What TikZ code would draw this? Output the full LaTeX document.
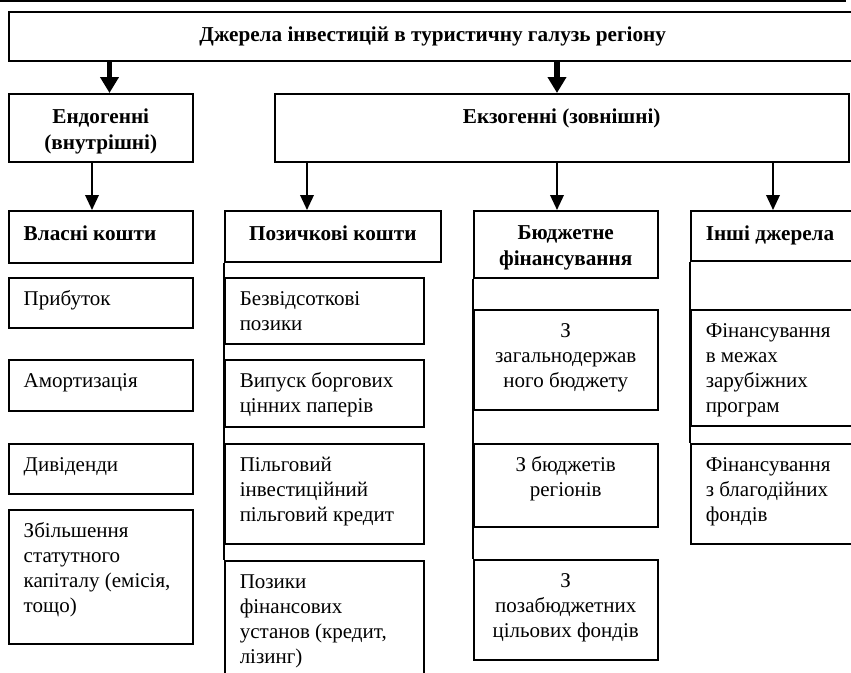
\documentclass[tikz,border=0pt]{standalone}
\usepackage{fontspec}
\setmainfont{Liberation Serif}
\usetikzlibrary{arrows.meta}
\newcommand\rgf{\fontsize{21}{25}\selectfont}
\newcommand\hdf{\fontsize{21.2}{26}\selectfont\bfseries}
\newcommand\La{\raggedright\leftskip=15pt\relax}
\newcommand\Ce{\centering}
% #1 width, #2 height, #3 first baseline from top, #4 font and alignment, #5 text
\newcommand\cbox[5]{\parbox[c][#2][t]{#1}{#4\vspace*{\dimexpr#3-\ht\strutbox\relax}\strut #5\strut\par}}
\begin{document}
\begin{tikzpicture}[x=1pt,y=-1pt,
  cell/.style={draw, line width=1.5pt, inner sep=0pt, anchor=north west},
  thinarr/.style={line width=2pt, -{Triangle[width=13.5pt,length=15pt]}},
  thickarr/.style={line width=5.5pt, -{Triangle[width=18pt,length=16pt]}},
  vline/.style={line width=1.5pt}]
\useasboundingbox (0,0) rectangle (851,672);
\clip (0,0) rectangle (851,672);
\draw[line width=2pt] (0,1) -- (846,1);
% level 0
\node[cell] (title) at (8,11) {\cbox{848pt}{49pt}{29.5pt}{\hdf\Ce}{Джерела інвестицій в туристичну галузь регіону}};
% level 1
\node[cell] (endo) at (8,93) {\cbox{184pt}{68pt}{29.5pt}{\hdf\Ce}{Ендогенні\\(внутрішні)}};
\node[cell] (exo) at (274,93) {\cbox{574pt}{68pt}{30pt}{\hdf\Ce}{Екзогенні (зовнішні)}};
% level 2 headers
\node[cell] (vlasni) at (8,210) {\cbox{184pt}{52pt}{30pt}{\hdf\La}{Власні кошти}};
\node[cell] (pozych) at (224,210) {\cbox{216pt}{51pt}{30pt}{\hdf\Ce}{Позичкові кошти}};
\node[cell] (budzh) at (473,210) {\cbox{184pt}{67pt}{29pt}{\hdf\Ce}{Бюджетне\\фінансування}};
\node[cell] (inshi) at (690,210) {\cbox{170pt}{50pt}{30pt}{\hdf\La}{Інші джерела}};
% own funds
\node[cell] (pryb) at (8,277) {\cbox{184pt}{50pt}{27.5pt}{\rgf\La}{Прибуток}};
\node[cell] (amort) at (8,359) {\cbox{184pt}{51pt}{27.5pt}{\rgf\La}{Амортизація}};
\node[cell] (dyv) at (8,443) {\cbox{184pt}{50pt}{27.5pt}{\rgf\La}{Дивіденди}};
\node[cell] (zbil) at (8,509) {\cbox{184pt}{134pt}{27.5pt}{\rgf\La}{Збільшення\\статутного\\капіталу (емісія,\\тощо)}};
% borrowed funds
\node[cell] (bezv) at (224,277) {\cbox{199pt}{66pt}{27.5pt}{\rgf\La}{Безвідсоткові\\позики}};
\node[cell] (vyp) at (224,359) {\cbox{199pt}{67pt}{27.5pt}{\rgf\La}{Випуск боргових\\цінних паперів}};
\node[cell] (pilg) at (224,443) {\cbox{199pt}{100pt}{27.5pt}{\rgf\La}{Пільговий\\інвестиційний\\пільговий кредит}};
\node[cell] (pozyky) at (224,560) {\cbox{199pt}{130pt}{27.5pt}{\rgf\La}{Позики\\фінансових\\установ (кредит,\\лізинг)}};
% budget
\node[cell] (zag) at (473,309) {\cbox{184pt}{100pt}{27.5pt}{\rgf\Ce}{З\\загальнодержав\\ного бюджету}};
\node[cell] (reg) at (473,443) {\cbox{184pt}{83pt}{27.5pt}{\rgf\Ce}{З бюджетів\\регіонів}};
\node[cell] (pozab) at (473,559) {\cbox{184pt}{100pt}{27.5pt}{\rgf\Ce}{З\\позабюджетних\\цільових фондів}};
% other
\node[cell] (zarub) at (690,309) {\cbox{170pt}{116pt}{27.5pt}{\rgf\La}{Фінансування\\в межах\\зарубіжних\\програм}};
\node[cell] (blag) at (690,443) {\cbox{170pt}{100pt}{27.5pt}{\rgf\La}{Фінансування\\з благодійних\\фондів}};
% column spines
\draw[vline] (pozych.south west) -- (pozyky.north west);
\draw[vline] (budzh.south west) -- (pozab.north west);
\draw[vline] (inshi.south west) -- (blag.north west);
% arrow positions
\coordinate (xa) at (109.5,0);
\coordinate (xb) at (557,0);
\coordinate (xc) at (92,0);
\coordinate (xd) at (307,0);
\coordinate (xe) at (557,0);
\coordinate (xf) at (773,0);
\draw[thickarr] (title.south -| xa) -- (endo.north -| xa);
\draw[thickarr] (title.south -| xb) -- (exo.north -| xb);
\draw[thinarr] (endo.south -| xc) -- (vlasni.north -| xc);
\draw[thinarr] (exo.south -| xd) -- (pozych.north -| xd);
\draw[thinarr] (exo.south -| xe) -- (budzh.north -| xe);
\draw[thinarr] (exo.south -| xf) -- (inshi.north -| xf);
\end{tikzpicture}
\end{document}
